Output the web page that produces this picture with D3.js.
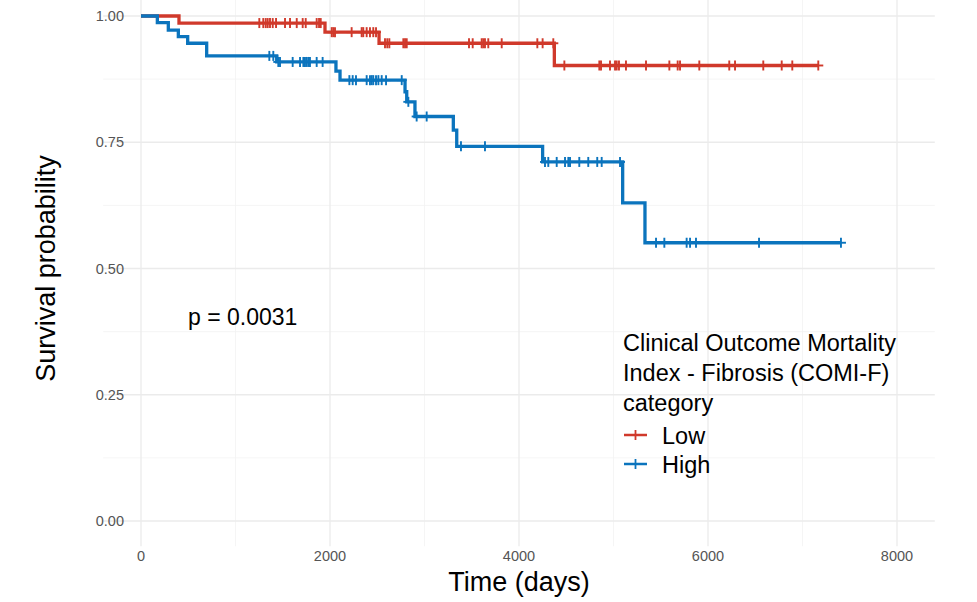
<!DOCTYPE html>
<meta charset="utf-8">
<style>
body { margin: 0; background: #ffffff; }
svg text { font-family: "Liberation Sans", Arial, sans-serif; }
.grid-major { stroke: #ebebeb; stroke-width: 1.3px; }
.grid-minor { stroke: #f2f2f2; stroke-width: 0.8px; }
.tick-label { fill: #555555; font-size: 14.5px; }
.axis-title { fill: #000000; font-size: 27px; }
.legend-text { fill: #000000; font-size: 23.5px; }
</style>
<body>
<svg id="km"></svg>
<script src="https://d3js.org/d3.v7.min.js"></script>
<script>
// ---- data ----
var groupNames = ["Low", "High"];
var groupColors = ["#d0392b", "#0b74bd"];

// Low group: event times (days) and survival after each event
var lowEventTimes = [402, 1947, 2519, 4374];
var lowEventSurv = [0.986, 0.968, 0.946, 0.902];
var lowCensorTimes = [1252, 1294, 1320, 1341, 1365, 1394, 1429, 1524, 1577, 1648, 1711, 1743, 1859, 1884, 1902,
  2018, 2035, 2053, 2229, 2335, 2352, 2388, 2423, 2458, 2487,
  2582, 2606, 2628, 2776, 2794, 2812, 3471, 3510, 3605, 3622, 3640, 3675, 3817, 4194, 4250, 4363,
  4480, 4850, 4868, 4963, 5016, 5034, 5058, 5132, 5344, 5591, 5679, 5704, 5908, 6225, 6286, 6585, 6780, 6892, 7167];

// High group
var highEventTimes = [173, 289, 395, 494, 695, 1436, 2063, 2106, 2794, 2812, 2899, 3305, 3341, 4250, 5097, 5333];
var highEventSurv = [0.987, 0.972, 0.959, 0.946, 0.921, 0.909, 0.891, 0.873, 0.850, 0.830, 0.801, 0.774, 0.742, 0.711, 0.630, 0.551];
var highCensorTimes = [1358, 1400, 1453, 1471, 1605, 1683, 1718, 1735, 1753, 1771, 1788, 1859, 1922,
  2205, 2240, 2275, 2388, 2423, 2441, 2458, 2487, 2512, 2547, 2593, 2759, 2829, 2917, 3023, 3386, 3640,
  4275, 4310, 4399, 4487, 4522, 4540, 4638, 4733, 4828, 4875, 5069,
  5450, 5538, 5774, 5810, 5873, 6540, 7407];

var xTicks = [0, 2000, 4000, 6000, 8000];
var xMinor = [1000, 3000, 5000, 7000];
var yTicks = [0, 0.25, 0.5, 0.75, 1];
var yMinor = [0.125, 0.375, 0.625, 0.875];
var legendTitle = ["Clinical Outcome Mortality", "Index - Fibrosis (COMI-F)", "category"];
var pLabel = "p = 0.0031";

// ---- layout ----
var width = 977, height = 602;
var svg = d3.select("#km").attr("width", width).attr("height", height);

var x = d3.scaleLinear().domain([0, 8000]).range([141, 897]);
var y = d3.scaleLinear().domain([0, 1]).range([521, 16]);
var xPanel = [x(-400), x(8400)];
var yPanel = [y(-0.05), y(1.05)];

// grid lines (minor first, then major)
var grid = svg.append("g");
grid.selectAll(".vx-minor").data(xMinor).enter().append("line")
  .attr("class", "grid-minor")
  .attr("x1", d => x(d)).attr("x2", d => x(d))
  .attr("y1", yPanel[0]).attr("y2", yPanel[1]);
grid.selectAll(".hy-minor").data(yMinor).enter().append("line")
  .attr("class", "grid-minor")
  .attr("x1", xPanel[0]).attr("x2", xPanel[1])
  .attr("y1", d => y(d)).attr("y2", d => y(d));
grid.selectAll(".vx-major").data(xTicks).enter().append("line")
  .attr("class", "grid-major")
  .attr("x1", d => x(d)).attr("x2", d => x(d))
  .attr("y1", yPanel[0]).attr("y2", yPanel[1]);
grid.selectAll(".hy-major").data(yTicks).enter().append("line")
  .attr("class", "grid-major")
  .attr("x1", xPanel[0]).attr("x2", xPanel[1])
  .attr("y1", d => y(d)).attr("y2", d => y(d));

// tick labels
svg.append("g").selectAll("text").data(xTicks).enter().append("text")
  .attr("class", "tick-label")
  .attr("x", d => x(d)).attr("y", 561)
  .attr("text-anchor", "middle")
  .text(d => d);
svg.append("g").selectAll("text").data(yTicks).enter().append("text")
  .attr("class", "tick-label")
  .attr("x", 124).attr("y", d => y(d) + 5)
  .attr("text-anchor", "end")
  .text(d => d3.format(".2f")(d));

// axis titles
svg.append("text").attr("class", "axis-title")
  .attr("x", (xPanel[0] + xPanel[1]) / 2).attr("y", 591)
  .attr("text-anchor", "middle")
  .text("Time (days)");
svg.append("text").attr("class", "axis-title")
  .attr("transform", "translate(55," + ((yPanel[0] + yPanel[1]) / 2) + ") rotate(-90)")
  .attr("text-anchor", "middle")
  .text("Survival probability");

// survival at time t from the step function
function survAt(times, surv, t) {
  var s = 1;
  for (var i = 0; i < times.length; i++) {
    if (times[i] <= t) s = surv[i];
  }
  return s;
}

var groups = [
  { times: lowEventTimes, surv: lowEventSurv, censor: lowCensorTimes, color: groupColors[0] },
  { times: highEventTimes, surv: highEventSurv, censor: highCensorTimes, color: groupColors[1] }
];

var stepLine = d3.line()
  .x(d => x(d[0]))
  .y(d => y(d[1]))
  .curve(d3.curveStepAfter);

groups.forEach(function(g) {
  var pts = [[0, 1]];
  g.times.forEach(function(t, i) { pts.push([t, g.surv[i]]); });
  var tEnd = d3.max(g.censor.concat(g.times));
  pts.push([tEnd, survAt(g.times, g.surv, tEnd)]);

  svg.append("path")
    .datum(pts)
    .attr("d", stepLine)
    .attr("fill", "none")
    .attr("stroke", g.color)
    .attr("stroke-width", 3.3);

  // censor marks "+"
  var marks = svg.append("g").attr("stroke", g.color).attr("stroke-width", 1.9);
  marks.selectAll(".v").data(g.censor).enter().append("line")
    .attr("x1", d => x(d)).attr("x2", d => x(d))
    .attr("y1", d => y(survAt(g.times, g.surv, d)) - 5)
    .attr("y2", d => y(survAt(g.times, g.surv, d)) + 5);
  marks.selectAll(".h").data(g.censor).enter().append("line")
    .attr("x1", d => x(d) - 5).attr("x2", d => x(d) + 5)
    .attr("y1", d => y(survAt(g.times, g.surv, d)))
    .attr("y2", d => y(survAt(g.times, g.surv, d)));
});

// p value
svg.append("text").attr("class", "legend-text")
  .attr("x", 188).attr("y", 325)
  .style("font-size", "23px")
  .text(pLabel);

// legend
var legend = svg.append("g").attr("transform", "translate(623,0)");
legend.selectAll(".title").data(legendTitle).enter().append("text")
  .attr("class", "legend-text")
  .attr("x", 0).attr("y", (d, i) => 351 + i * 30)
  .text(d => d);

var keys = legend.selectAll(".key").data(groupNames).enter().append("g")
  .attr("transform", (d, i) => "translate(0," + (435 + i * 29) + ")");
keys.append("line")
  .attr("x1", 1).attr("x2", 24).attr("y1", 0).attr("y2", 0)
  .attr("stroke", (d, i) => groupColors[i]).attr("stroke-width", 2.5);
keys.append("line")
  .attr("x1", 12.5).attr("x2", 12.5).attr("y1", -5).attr("y2", 5)
  .attr("stroke", (d, i) => groupColors[i]).attr("stroke-width", 1.8);
keys.append("text")
  .attr("class", "legend-text")
  .attr("x", 39).attr("y", 8.5)
  .text(d => d);
</script>
</body>
